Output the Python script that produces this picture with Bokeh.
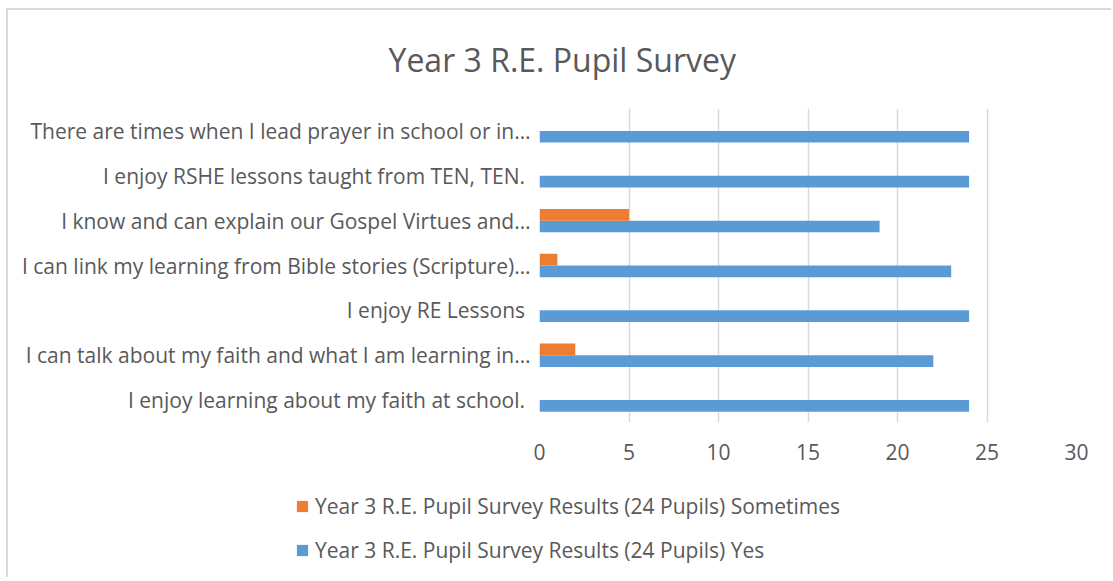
from bokeh.plotting import figure
from bokeh.models import (ColumnDataSource, FactorRange, Range1d, FixedTicker,
                          Legend, LegendItem, Title)
from bokeh.transform import dodge
from bokeh.embed import file_html
from bokeh.resources import INLINE

# ---- data (bottom category first, as in the source chart) ----
categories = [
    "I enjoy learning about my faith at school. ",
    "I can talk about my faith and what I am learning in\u2026",
    "I enjoy RE Lessons ",
    "I can link my learning from Bible stories (Scripture)\u2026",
    "I know and can explain our Gospel Virtues and\u2026",
    "I enjoy RSHE lessons taught from TEN, TEN. ",
    "There are times when I lead prayer in school or in\u2026",
]
yes_values = [24, 22, 24, 23, 19, 24, 24]
sometimes_values = [0, 2, 0, 1, 5, 0, 0]
x_ticks = [0, 5, 10, 15, 20, 25, 30]
title_text = "Year 3 R.E. Pupil Survey"
series_names = ["Year 3 R.E. Pupil Survey Results (24 Pupils) Sometimes",
                "Year 3 R.E. Pupil Survey Results (24 Pupils) Yes"]

FONT = "Open Sans"
TXT = "#595959"
BLUE = "#5B9BD5"
ORANGE = "#ED7D31"
GRID = "#D9D9D9"

src = ColumnDataSource(dict(cat=categories, yes=yes_values, some=sometimes_values))

# ---------------- main chart ----------------
p = figure(width=1105, height=470, output_backend="svg", toolbar_location=None,
           y_range=FactorRange(factors=categories), x_range=Range1d(0, 30),
           min_border_left=531, min_border_right=37, min_border_top=98,
           min_border_bottom=58, title=None)
p.outline_line_color = None
p.background_fill_color = "white"
p.border_fill_color = "white"

r_yes = p.hbar(y=dodge("cat", -0.13, range=p.y_range), right="yes", left=0,
               height=0.26, source=src, fill_color=BLUE, line_color=None)
r_some = p.hbar(y=dodge("cat", 0.13, range=p.y_range), right="some", left=0,
                height=0.26, source=src, fill_color=ORANGE, line_color=None)

p.xaxis.ticker = FixedTicker(ticks=x_ticks)
p.xaxis.axis_line_color = None
p.xaxis.major_tick_line_color = None
p.xaxis.minor_tick_line_color = None
p.xaxis.major_label_standoff = 15
p.xaxis.major_label_text_font = FONT
p.xaxis.major_label_text_font_size = "21px"
p.xaxis.major_label_text_color = TXT

p.yaxis.axis_line_color = None
p.yaxis.major_tick_line_color = None
p.yaxis.minor_tick_line_color = None
p.yaxis.major_label_standoff = 3
p.yaxis.major_label_text_font = FONT
p.yaxis.major_label_text_font_size = "21px"
p.yaxis.major_label_text_color = TXT

p.xgrid.ticker = FixedTicker(ticks=x_ticks)
p.xgrid.grid_line_color = GRID
p.xgrid.grid_line_width = 1.5
p.ygrid.grid_line_color = None

p.add_layout(Title(text=title_text, align="left", offset=-151, standoff=52,
                   vertical_align="top",
                   text_font=FONT, text_font_size="32px", text_font_style="normal",
                   text_color=TXT), "above")

p.styles = {"border-left": "2px solid #D9D9D9", "border-top": "2px solid #D9D9D9",
            "margin-left": "6px", "margin-top": "8px"}

# ---------------- legend strip (separate root, full-width frame) ----------------
q = figure(width=1105, height=99, output_backend="svg", toolbar_location=None,
           y_range=FactorRange(factors=categories), x_range=Range1d(-100, -99),
           min_border_left=0, min_border_right=0, min_border_top=0,
           min_border_bottom=0, x_axis_location=None, y_axis_location=None,
           title=None)
q.outline_line_color = None
q.grid.grid_line_color = None
q.background_fill_color = "white"
q.border_fill_color = "white"
l_yes = q.hbar(y="cat", right="yes", left=0, height=0.26, source=src,
               fill_color=BLUE, line_color=None)
l_some = q.hbar(y="cat", right="some", left=0, height=0.26, source=src,
                fill_color=ORANGE, line_color=None)

legend = Legend(items=[LegendItem(label=series_names[0], renderers=[l_some]),
                       LegendItem(label=series_names[1], renderers=[l_yes])],
                location=(287, 13), orientation="vertical",
                glyph_width=14, glyph_height=14, label_height=26, spacing=16,
                label_standoff=6, padding=0, margin=0,
                label_text_font=FONT, label_text_font_size="21px",
                label_text_color=TXT, border_line_color=None,
                background_fill_alpha=0)
q.add_layout(legend, "center")
q.styles = {"border-left": "2px solid #D9D9D9", "margin-left": "6px"}

open("out.html", "w").write(file_html([p, q], INLINE))
